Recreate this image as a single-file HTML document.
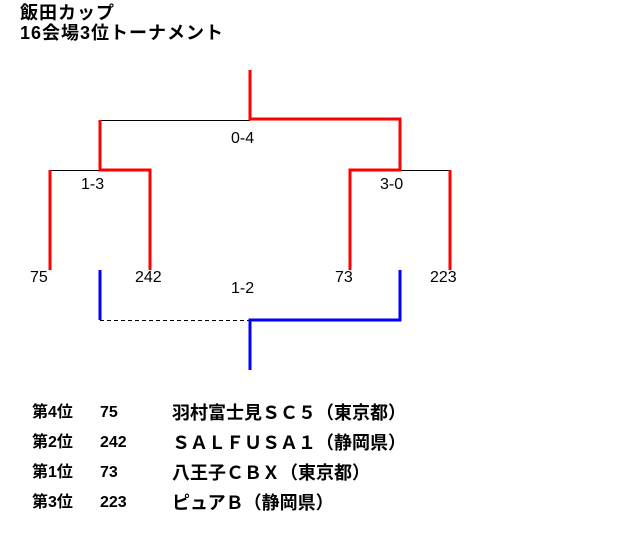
<!DOCTYPE html>
<html><head><meta charset="utf-8"><style>
body{margin:0;width:640px;height:550px;background:#fff;position:relative;overflow:hidden;font-family:"Liberation Sans","Noto Sans CJK JP",sans-serif;}
.t{position:absolute;font-size:18px;letter-spacing:1px;font-weight:bold;line-height:20px;color:#000;white-space:nowrap}
.l{position:absolute;font-size:16px;line-height:16px;color:#000;white-space:nowrap}
.r{position:absolute;font-size:16px;font-weight:bold;line-height:20px;white-space:nowrap}
.n{position:absolute;font-size:18px;font-weight:bold;line-height:20px;white-space:nowrap}
</style></head><body>
<div class="t" style="left:20px;top:3px">飯田カップ</div>
<div class="t" style="left:20px;top:23px">16会場3位トーナメント</div>
<svg width="640" height="550" style="position:absolute;left:0;top:0">
<g stroke="#000" stroke-width="1" fill="none">
<line x1="100" y1="120.5" x2="250" y2="120.5"/>
<line x1="50" y1="170.5" x2="100" y2="170.5"/>
<line x1="400" y1="170.5" x2="450" y2="170.5"/>
<line x1="100" y1="320.5" x2="250" y2="320.5" stroke-dasharray="4,3"/>
</g>
<g stroke="#f00" stroke-width="3" fill="none">
<polyline points="250,70 250,119 400,119 400,170 350,170 350,270"/>
<polyline points="100,120 100,170 150,170 150,270"/>
<line x1="50" y1="170" x2="50" y2="270"/>
<line x1="450" y1="170" x2="450" y2="270"/>
</g>
<g stroke="#00f" stroke-width="3" fill="none">
<line x1="100" y1="270" x2="100" y2="320"/>
<polyline points="400,270 400,320 250,320 250,370"/>
</g>
</svg>
<div class="l" style="left:231px;top:131px">0-4</div>
<div class="l" style="left:81px;top:177px">1-3</div>
<div class="l" style="left:380px;top:177px">3-0</div>
<div class="l" style="left:231px;top:281px">1-2</div>
<div class="l" style="left:30px;top:270px">75</div>
<div class="l" style="left:135px;top:270px">242</div>
<div class="l" style="left:335px;top:270px">73</div>
<div class="l" style="left:430px;top:270px">223</div>
<div class="r" style="left:32px;top:403px">第4位</div><div class="r" style="left:100px;top:403px">75</div><div class="n" style="left:172px;top:403px">羽村富士見ＳＣ５（東京都）</div>
<div class="r" style="left:32px;top:433px">第2位</div><div class="r" style="left:100px;top:433px">242</div><div class="n" style="left:172px;top:433px">ＳＡＬＦＵＳＡ１（静岡県）</div>
<div class="r" style="left:32px;top:463px">第1位</div><div class="r" style="left:100px;top:463px">73</div><div class="n" style="left:172px;top:463px">八王子ＣＢＸ（東京都）</div>
<div class="r" style="left:32px;top:493px">第3位</div><div class="r" style="left:100px;top:493px">223</div><div class="n" style="left:172px;top:493px">ピュアＢ（静岡県）</div>
</body></html>
